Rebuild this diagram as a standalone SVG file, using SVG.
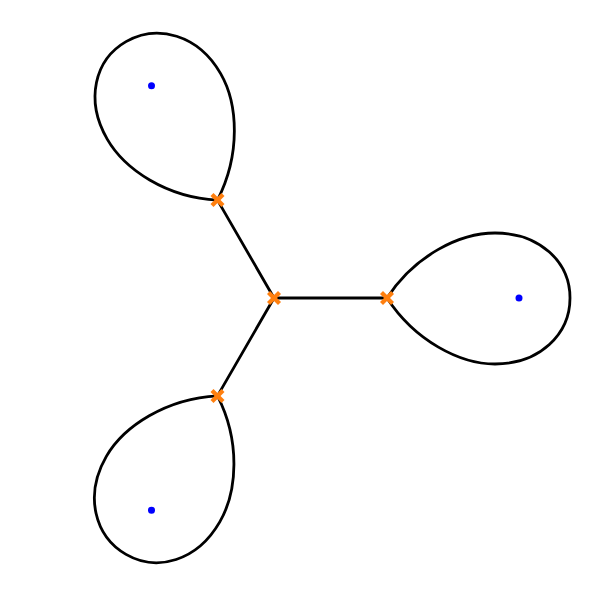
<svg xmlns="http://www.w3.org/2000/svg" width="598" height="598" viewBox="0 0 598 598">
<defs>
<style>
.edge{fill:none;stroke:#000;stroke-width:2.8;stroke-linecap:round}
.mk{stroke:#ff7f0e;stroke-width:4.2;stroke-linecap:butt}
.dot{fill:#0000ff}
</style>
<path id="loop" d="M 387 298 C 415 255, 460 233, 495 233 C 540 233, 570 262, 570 298 C 570 334, 540 364, 495 364 C 460 364, 415 341, 387 298 Z"/>
<g id="x"><line class="mk" x1="-5.5" y1="-5.5" x2="5.5" y2="5.5"/><line class="mk" x1="-5.5" y1="5.5" x2="5.5" y2="-5.5"/></g>
</defs>
<rect width="598" height="598" fill="#fff"/>
<g id="connectors">
<line class="edge" x1="274" y1="298" x2="387" y2="298"/>
<line class="edge" x1="274" y1="298" x2="217.5" y2="200.1"/>
<line class="edge" x1="274" y1="298" x2="217.5" y2="395.9"/>
<use href="#loop" class="edge"/>
<use href="#loop" class="edge" transform="rotate(-120 274 298)"/>
<use href="#loop" class="edge" transform="rotate(120 274 298)"/>
</g>
<g id="n-center"><use href="#x" x="274" y="298"/></g>
<g id="n-right"><use href="#x" x="387" y="298"/><circle class="dot" cx="519" cy="298" r="3.5"/></g>
<g id="n-upper"><use href="#x" x="217.5" y="200.1"/><circle class="dot" cx="151.5" cy="85.8" r="3.5"/></g>
<g id="n-lower"><use href="#x" x="217.5" y="395.9"/><circle class="dot" cx="151.5" cy="510.2" r="3.5"/></g>
</svg>
